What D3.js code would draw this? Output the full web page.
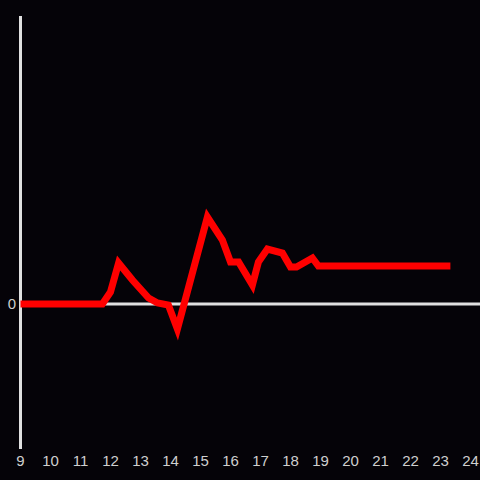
<!DOCTYPE html>
<html>
    <head>
        <script src="https://d3js.org/d3.v7.min.js"></script>
        <style>
            body { margin: 0; background: #050308; }
            svg { display: block; }
        </style>
    </head>
    <body>
        <svg width="480" height="480"></svg>

        <script>
            "use strict";

            // hour of day
            var hours = [9, 11.73, 12.0, 12.27, 12.73, 13.27, 13.57, 13.93, 14.23, 15.23, 15.73, 16.0,
                         16.27, 16.73, 16.93, 17.23, 17.73, 18.0, 18.2, 18.73, 18.93, 23.33];
            var values = [0, 0, 12, 41, 24, 6, 1, -1, -25, 87, 64, 42,
                          42, 19, 42, 55, 51, 37, 37, 46, 38, 38];
            var xTicks = [9, 10, 11, 12, 13, 14, 15, 16, 17, 18, 19, 20, 21, 22, 23, 24];
            var yTicks = [0];

            var svg = d3.select("svg"),
                width = +svg.attr("width"),
                height = +svg.attr("height");

            svg.append("rect").attr("width", width).attr("height", height).attr("fill", "#050308");

            var x = d3.scaleLinear().domain([9, 24]).range([20.5, 470.5]);
            var y = d3.scaleLinear().domain([-145, 288]).range([449, 16]);

            // vertical axis
            svg.append("line")
                .attr("x1", x(9)).attr("x2", x(9))
                .attr("y1", y(288)).attr("y2", y(-145))
                .attr("stroke", "#e0e0e0").attr("stroke-width", 3);

            // zero line
            svg.selectAll(".zero").data(yTicks).enter().append("line")
                .attr("x1", x(9)).attr("x2", width)
                .attr("y1", d => y(d)).attr("y2", d => y(d))
                .attr("stroke", "#e0e0e0").attr("stroke-width", 3);

            svg.selectAll(".ylab").data(yTicks).enter().append("text")
                .attr("x", 16).attr("y", d => y(d))
                .attr("dy", "0.35em")
                .attr("text-anchor", "end")
                .attr("fill", "#cfcfcf")
                .style("font", "15px 'Liberation Sans', Arial, sans-serif")
                .text(d => d);

            svg.selectAll(".xlab").data(xTicks).enter().append("text")
                .attr("x", d => x(d)).attr("y", 466)
                .attr("text-anchor", "middle")
                .attr("fill", "#cfcfcf")
                .style("font", "15px 'Liberation Sans', Arial, sans-serif")
                .text(d => d);

            var line = d3.line()
                .x(i => x(hours[i]))
                .y(i => y(values[i]));

            svg.append("path")
                .attr("d", line(d3.range(hours.length)))
                .attr("fill", "none")
                .attr("stroke", "#ff0000")
                .attr("stroke-width", 7)
                .attr("stroke-linejoin", "miter");
        </script>
    </body>
</html>
